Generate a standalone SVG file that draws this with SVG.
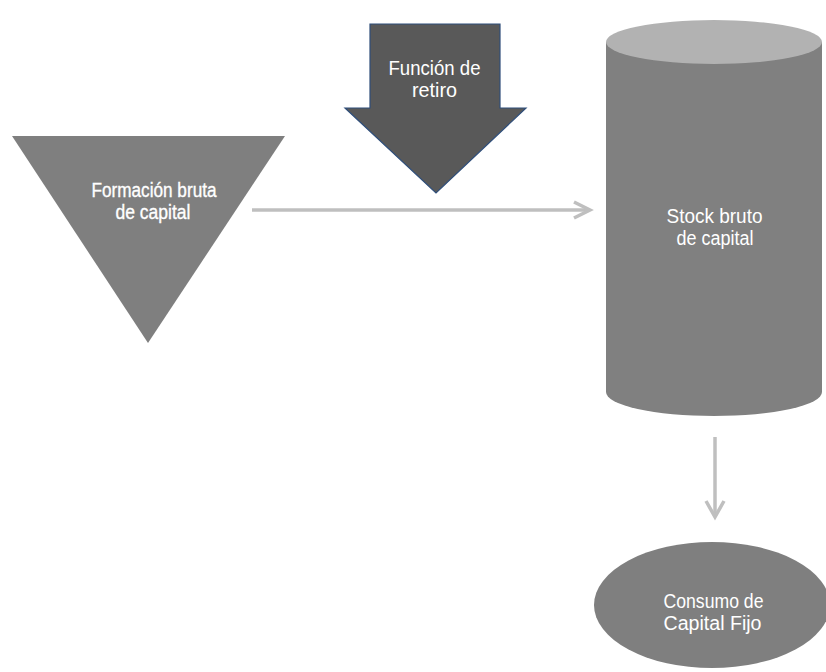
<svg xmlns="http://www.w3.org/2000/svg" width="826" height="672" viewBox="0 0 826 672">
  <style>
    .lbl { font-family: "Liberation Sans", Arial, sans-serif; fill: #ffffff; text-anchor: middle; font-size: 19.5px; }
    .heavy { font-size: 20.5px; stroke: #ffffff; stroke-width: 0.35; }
    .conn { fill: none; stroke: #bfbfbf; stroke-width: 3.5; stroke-linecap: butt; }
  </style>
  <rect width="826" height="672" fill="#ffffff"/>
  <g id="formacion">
    <polygon points="12,136 285,136 148,343" fill="#7f7f7f"/>
    <text class="lbl heavy" x="154" y="196.5" textLength="125" lengthAdjust="spacingAndGlyphs">Formación bruta</text>
    <text class="lbl heavy" x="153" y="219" textLength="75" lengthAdjust="spacingAndGlyphs">de capital</text>
  </g>
  <g id="retiro">
    <polygon points="370,24 500,24 500,108 526,108 436,193 345,108 370,108" fill="#595959" stroke="#2f4e7a" stroke-width="1.2"/>
    <text class="lbl" x="434.5" y="74.5" textLength="92" lengthAdjust="spacingAndGlyphs">Función de</text>
    <text class="lbl" x="434.5" y="97" textLength="45" lengthAdjust="spacingAndGlyphs">retiro</text>
  </g>
  <g id="stock">
    <path d="M606,42 L606,392 A108,24 0 0 0 822,392 L822,42 Z" fill="#808080"/>
    <ellipse cx="714" cy="42" rx="108" ry="22" fill="#b2b2b2"/>
    <text class="lbl" x="714.5" y="222.5" textLength="96" lengthAdjust="spacingAndGlyphs">Stock bruto</text>
    <text class="lbl" x="715" y="245" textLength="77" lengthAdjust="spacingAndGlyphs">de capital</text>
  </g>
  <g id="consumo">
    <ellipse cx="712" cy="605" rx="118" ry="63" fill="#7f7f7f"/>
    <text class="lbl" x="713.5" y="607.5" textLength="100" lengthAdjust="spacingAndGlyphs">Consumo de</text>
    <text class="lbl" x="712.5" y="629.5" textLength="98" lengthAdjust="spacingAndGlyphs">Capital Fijo</text>
  </g>
  <g id="connectors">
    <line class="conn" x1="252" y1="210" x2="590" y2="210"/>
    <polyline class="conn" points="574,202 590,210 574,218"/>
    <line class="conn" x1="715" y1="437" x2="715" y2="517"/>
    <polyline class="conn" points="706,501 715,517 724,501"/>
  </g>
</svg>
